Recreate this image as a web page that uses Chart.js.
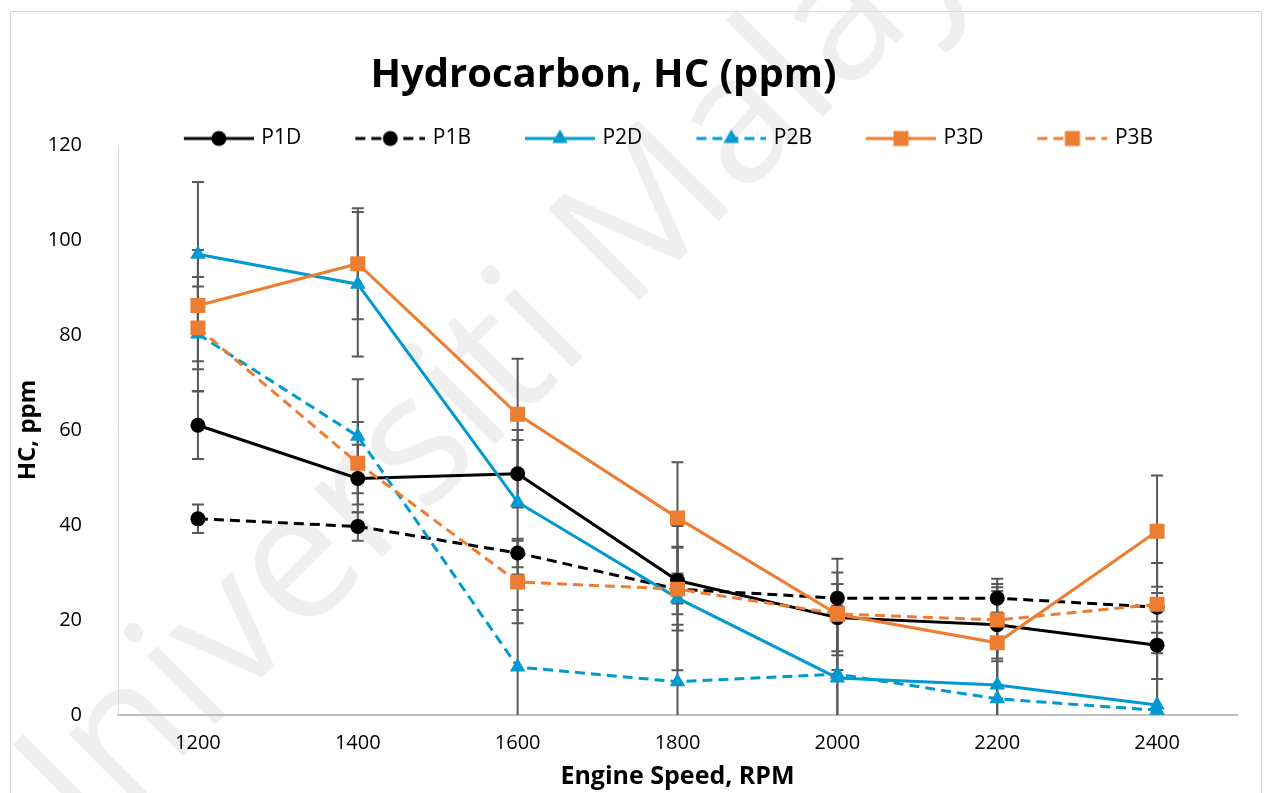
<!DOCTYPE html>
<html>
<head>
<meta charset="utf-8">
<script src="https://cdn.jsdelivr.net/npm/chart.js@4.4.1/dist/chart.umd.min.js"></script>
<style>
  html, body { margin: 0; padding: 0; background: #fff; }
  #wrap { width: 1267px; height: 793px; }
</style>
</head>
<body>
<div id="wrap"><canvas id="myChart"></canvas></div>
<script>
// engine speed categories
const categories = ['1200', '1400', '1600', '1800', '2000', '2200', '2400'];
const yTicks = [0, 20, 40, 60, 80, 100, 120];

// HC values, ppm
const p1d = [61, 49.8, 50.8, 28.3, 20.5, 19, 14.7];
const p1b = [41.3, 39.7, 34.1, 26.5, 24.6, 24.6, 22.7];
const p2d = [97, 90.7, 44.8, 24.6, 7.8, 6.3, 2.1];
const p2b = [80.2, 58.7, 10.1, 7, 8.6, 3.4, 1];
const p3d = [86.2, 95, 63.3, 41.5, 21.2, 15.2, 38.7];
const p3b = [81.5, 53, 28, 26.5, 21.3, 20, 23.3];

// error bar half heights
const p1dErr = [7.1, 7.1, 7.1, 7.1, 7.1, 7.1, 7.1];
const p1bErr = [3, 3, 3, 3, 3, 3, 3];
const p2dErr = [15.2, 15.2, 15.2, 15.2, 15.2, 15.2, 15.2];
const p2bErr = [12, 12, 12, 12, 12, 12, 12];
const p3dErr = [11.7, 11.7, 11.7, 11.7, 11.7, 11.7, 11.7];
const p3bErr = [8.7, 8.7, 8.7, 8.7, 8.7, 8.7, 8.7];

const BLACK = '#000000';
const BLUE = '#0099d0';
const ORANGE = '#ed7d31';
const FONT = "'Open Sans', 'DejaVu Sans', sans-serif";

const series = [
  { label: 'P1D', data: p1d, err: p1dErr, color: BLACK, dash: [], marker: 'circle' },
  { label: 'P1B', data: p1b, err: p1bErr, color: BLACK, dash: [10, 6], marker: 'circle' },
  { label: 'P2D', data: p2d, err: p2dErr, color: BLUE, dash: [], marker: 'triangle' },
  { label: 'P2B', data: p2b, err: p2bErr, color: BLUE, dash: [10, 6], marker: 'triangle' },
  { label: 'P3D', data: p3d, err: p3dErr, color: ORANGE, dash: [], marker: 'rect' },
  { label: 'P3B', data: p3b, err: p3bErr, color: ORANGE, dash: [10, 6], marker: 'rect' }
];

// legend sample: line with marker, transparent room on the left for spacing
const SAMPLE_BOX = 111;
function legendSample(s) {
  const c = document.createElement('canvas');
  c.width = SAMPLE_BOX + 6; c.height = 24;
  const g = c.getContext('2d');
  const x0 = c.width - 70, x1 = c.width, cy = 12, cx = (x0 + x1) / 2;
  g.strokeStyle = s.color; g.lineWidth = 3; g.setLineDash(s.dash);
  g.beginPath(); g.moveTo(x0, cy); g.lineTo(x1, cy); g.stroke();
  g.setLineDash([]);
  g.fillStyle = s.color;
  g.beginPath();
  if (s.marker === 'circle') {
    g.arc(cx, cy, 7.5, 0, Math.PI * 2);
  } else if (s.marker === 'triangle') {
    g.moveTo(cx, cy - 9); g.lineTo(cx + 7.8, cy + 4.5); g.lineTo(cx - 7.8, cy + 4.5); g.closePath();
  } else {
    g.rect(cx - 7.5, cy - 7.5, 15, 15);
  }
  g.fill();
  return c;
}
const samples = series.map(legendSample);

const datasets = series.map((s, i) => ({
  label: s.label,
  data: s.data,
  errors: s.err,
  borderColor: s.color,
  backgroundColor: s.color,
  borderWidth: 3,
  borderDash: s.dash,
  pointStyle: s.marker,
  pointRadius: s.marker === 'circle' ? 7.5 : (s.marker === 'triangle' ? 9 : 10.6),
  pointBorderWidth: 0,
  pointBackgroundColor: s.color,
  tension: 0,
  fill: false,
  order: series.length - i
}));

const background = {
  id: 'background',
  beforeDraw(chart) {
    const { ctx, width, height } = chart;
    ctx.save();
    ctx.fillStyle = '#ffffff';
    ctx.fillRect(0, 0, width, height);
    // watermark
    ctx.translate(505, 362);
    ctx.rotate(-Math.PI / 4);
    ctx.font = "180px 'Open Sans', sans-serif";
    ctx.fillStyle = '#efefef';
    ctx.textAlign = 'center';
    ctx.textBaseline = 'middle';
    ctx.fillText('Universiti Malaya', 0, 0);
    ctx.restore();
  },
  afterDraw(chart) {
    const { ctx } = chart;
    ctx.save();
    ctx.strokeStyle = '#d9d9d9';
    ctx.lineWidth = 1;
    ctx.strokeRect(10.5, 11.5, 1251, 800);
    ctx.restore();
  }
};

const errorBars = {
  id: 'errorBars',
  beforeDatasetsDraw(chart) {
    const { ctx, chartArea, scales } = chart;
    ctx.save();
    ctx.beginPath();
    ctx.rect(chartArea.left, chartArea.top, chartArea.right - chartArea.left, chartArea.bottom - chartArea.top);
    ctx.clip();
    ctx.strokeStyle = '#595959';
    ctx.lineWidth = 2;
    chart.data.datasets.forEach((ds) => {
      ds.errors.forEach((e, j) => {
        const x = scales.x.getPixelForValue(j);
        const hi = scales.y.getPixelForValue(ds.data[j] + e);
        const lo = scales.y.getPixelForValue(ds.data[j] - e);
        ctx.beginPath();
        ctx.moveTo(x, hi); ctx.lineTo(x, lo);
        ctx.moveTo(x - 6, hi); ctx.lineTo(x + 6, hi);
        ctx.moveTo(x - 6, lo); ctx.lineTo(x + 6, lo);
        ctx.stroke();
      });
    });
    ctx.restore();
  }
};

// nudge title and legend to where the original sits
const placeBoxes = {
  id: 'placeBoxes',
  afterLayout(chart) {
    const t = chart.titleBlock;
    t.right -= 30;
    const lg = chart.legend;
    lg.top += 14; lg.bottom += 14;
    lg.left += 28; lg.right += 28;
  }
};

const ctx = document.getElementById('myChart').getContext('2d');
const myChart = new Chart(ctx, {
  type: 'line',
  data: { labels: categories, datasets: datasets },
  plugins: [background, errorBars, placeBoxes],
  options: {
    responsive: true,
    maintainAspectRatio: false,
    animation: false,
    events: [],
    layout: { padding: { left: 0, right: 30, top: 0, bottom: 0 } },
    plugins: {
      title: {
        display: true,
        text: 'Hydrocarbon, HC (ppm)',
        color: '#000',
        font: { family: FONT, size: 40, weight: 'bold', lineHeight: 1.2 },
        padding: { top: 52, bottom: 4 }
      },
      legend: {
        display: true,
        position: 'top',
        labels: {
          usePointStyle: true,
          pointStyleWidth: SAMPLE_BOX,
          padding: 10,
          color: '#000',
          font: { family: FONT, size: 21 },
          generateLabels: (chart) => chart.data.datasets.map((ds, i) => ({
            text: ds.label,
            pointStyle: samples[i],
            datasetIndex: i,
            hidden: false,
            lineWidth: 0,
            fillStyle: ds.borderColor,
            strokeStyle: ds.borderColor,
            fontColor: '#000'
          }))
        }
      },
      tooltip: { enabled: false }
    },
    scales: {
      x: {
        offset: true,
        grid: { display: true, drawOnChartArea: false, drawTicks: false },
        border: { display: true, color: '#bfbfbf', width: 2 },
        ticks: { color: '#000', font: { family: FONT, size: 20 }, padding: 16, maxRotation: 0 },
        title: {
          display: true,
          text: 'Engine Speed, RPM',
          color: '#000',
          font: { family: FONT, size: 25, weight: 'bold' },
          padding: { top: 0, bottom: 1 }
        },
        afterFit: (axis) => { axis.height = 78; }
      },
      y: {
        min: 0,
        max: 120,
        grid: { display: true, drawOnChartArea: false, drawTicks: false },
        border: { display: true, color: '#d9d9d9', width: 1 },
        ticks: {
          color: '#000',
          font: { family: FONT, size: 20 },
          padding: 36,
          stepSize: 20,
          callback: (v) => (yTicks.includes(v) ? String(v) : '')
        },
        title: {
          display: true,
          text: 'HC, ppm',
          color: '#000',
          font: { family: FONT, size: 24, weight: 'bold' },
          padding: { top: 14, bottom: 0 }
        },
        afterFit: (axis) => { axis.width = 118; }
      }
    }
  }
});
</script>
</body>
</html>
